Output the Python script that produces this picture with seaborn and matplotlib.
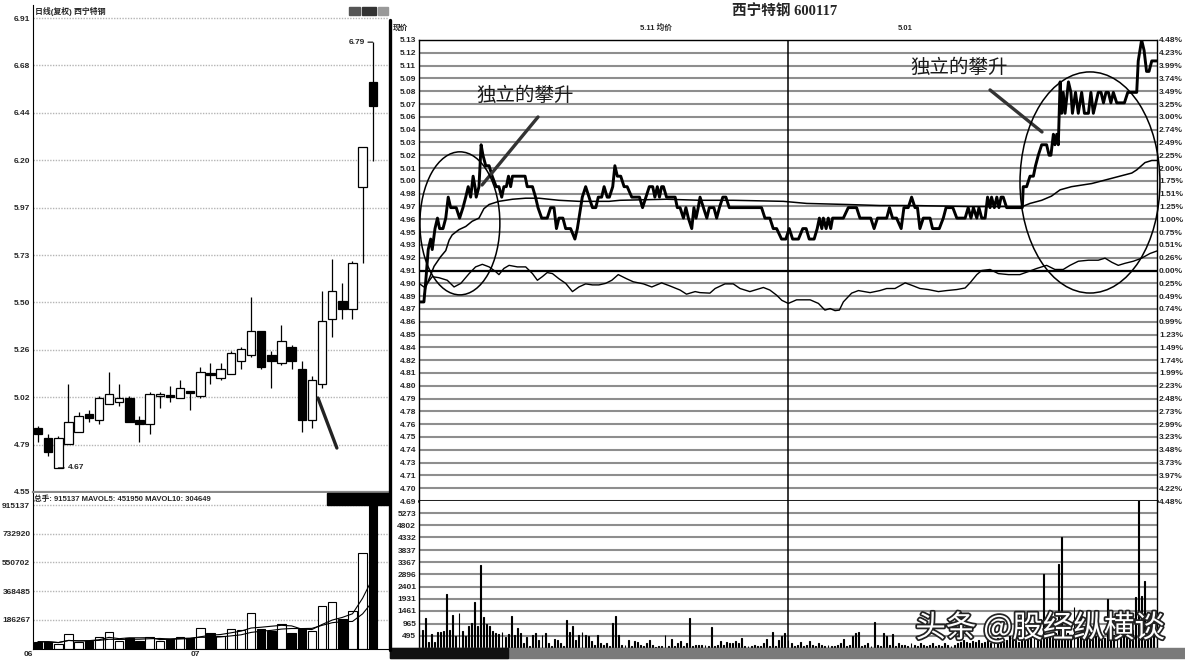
import numpy as np
import pandas as pd
import matplotlib
matplotlib.use("Agg")
import matplotlib.pyplot as plt
import matplotlib.patheffects as pe
from matplotlib.patches import Ellipse, Rectangle
from matplotlib.lines import Line2D
import seaborn as sns

# ---------------- daily K-line, 34 sessions ----------------
k_open = [4.87, 4.82, 4.67, 4.79, 4.85, 4.94, 4.91, 4.99, 5.00, 5.02,
          4.91, 4.89, 5.03, 5.03, 5.02, 5.05, 5.03, 5.14, 5.12, 5.14,
          5.20, 5.23, 5.35, 5.23, 5.19, 5.27, 5.16, 4.91, 5.09, 5.41,
          5.50, 5.46, 6.07, 6.59]
k_high = [4.88, 4.84, 4.83, 5.09, 4.95, 4.96, 5.03, 5.15, 5.09, 5.03,
          4.93, 5.05, 5.05, 5.08, 5.11, 5.05, 5.17, 5.19, 5.19, 5.25,
          5.27, 5.52, 5.35, 5.25, 5.38, 5.28, 5.20, 5.13, 5.55, 5.71,
          5.59, 5.70, 6.27, 6.79]
k_low = [4.80, 4.73, 4.67, 4.79, 4.85, 4.90, 4.89, 4.99, 4.98, 4.90,
         4.80, 4.84, 4.97, 5.00, 5.02, 4.96, 5.02, 5.09, 5.11, 5.14,
         5.16, 5.22, 5.16, 5.07, 5.18, 5.16, 4.85, 4.87, 5.07, 5.32,
         5.41, 5.41, 5.69, 6.20]
k_close = [4.84, 4.75, 4.82, 4.90, 4.93, 4.92, 5.02, 5.04, 5.02, 4.90,
           4.89, 5.04, 5.04, 5.025, 5.07, 5.045, 5.15, 5.135, 5.16, 5.24,
           5.26, 5.35, 5.17, 5.20, 5.30, 5.20, 4.91, 5.11, 5.40, 5.55,
           5.46, 5.69, 6.27, 6.47]
k_vol = [47700, 47700, 33000, 96000, 43500, 54000, 75000, 111000, 54000, 71000,
         54000, 79000, 50000, 64500, 79000, 68700, 134000, 102000, 85500, 131700,
         123000, 232500, 127500, 117000, 160000, 105000, 130000, 115000, 276740, 300000,
         190000, 244613, 610000, 915137]
k_price_labels = ["4.55", "4.79", "5.02", "5.26", "5.50", "5.73",
                  "5.97", "6.20", "6.44", "6.68", "6.91"]
k_vol_labels = ["186267", "368485", "550702", "732920", "915137"]

# ---------------- intraday (minutes 0-240) ----------------
prev_close = 4.91
limit_pct = 4.48

price_min = [0, 1.6, 2.2, 3.0, 3.8, 4.3, 5.2, 6.0, 6.7, 7.8,
             8.7, 9.5, 10.3, 11.4, 12.1, 13.2, 14.3, 15.2, 16.0, 16.8,
             17.6, 18.2, 18.6, 19.5, 20.2, 20.8, 21.7, 22.8, 23.8, 25.1,
             26.0, 26.9, 27.6, 28.4, 29.1, 29.8, 30.4, 34.5, 35.2, 36.9,
             37.9, 38.7, 39.9, 41.7, 42.8, 43.9, 44.7, 45.5, 46.8, 47.7,
             49.3, 50.7, 51.5, 53.1, 54.2, 55.3, 56.4, 57.5, 58.3, 59.4,
             60.2, 61.2,
             61.9, 63.0, 63.7, 64.5, 65.6, 66.7, 67.7, 69.2, 70.2, 71.7,
             72.7, 73.8, 74.9, 76.0, 76.7, 77.5, 78.2, 78.9, 79.5, 80.5,
             82.2, 83.3, 84.0, 84.9, 86.0, 86.8, 87.6, 88.7, 89.4, 90.1,
             90.8, 91.4, 92.5, 93.6, 94.4, 95.2, 95.9, 96.8, 97.7, 98.8,
             99.8, 100.9, 111.4, 112.5, 114.1, 115.2, 116.3, 117.9,
             119.3, 120.4, 121.5, 123.4, 124.8, 125.9, 126.9, 128.5, 129.5, 130.2,
             131.0, 131.5, 132.4, 133.1, 133.9, 134.5, 138.0, 139.6, 142.3, 143.4,
             146.9, 148.0, 149.1, 152.1, 153.0, 154.0, 155.3, 156.8, 157.7, 159.1,
             160.2, 161.3, 162.1, 162.9, 164.0, 166.2, 167.0, 169.2, 170.5, 171.4,
             173.6, 174.9,
             177.6, 178.6, 179.5, 180.3, 181.4, 182.1, 183.0, 184.1, 184.9, 185.7,
             186.2, 187.1, 187.9, 188.6, 189.3, 190.0, 191.1, 196.2, 196.5, 197.6,
             198.7, 199.8, 200.5, 201.4, 202.5, 203.4, 204.1, 204.9, 205.5, 206.3,
             206.8, 207.4, 207.9, 208.5, 209.0, 209.5, 210.1, 211.2, 212.0, 212.5,
             213.5, 214.4, 215.5, 216.4, 217.7, 218.5, 219.3, 220.1, 220.9, 221.8,
             222.6, 223.4, 224.2, 225.0, 225.8, 226.9, 229.4, 230.5, 233.4, 233.9,
             235.0, 235.8, 236.6, 237.4, 238.3, 239.1, 240.0]
price_val = [4.88, 4.88, 4.90, 4.93, 4.94, 4.93, 4.95, 4.96, 4.95, 4.95,
             4.96, 4.98, 4.97, 4.97, 4.97, 4.96, 4.97, 4.98, 4.99, 4.98,
             5.00, 4.99, 4.98, 4.99, 5.03, 5.02, 5.01, 5.01, 5.00, 4.99,
             4.99, 4.98, 4.99, 4.99, 5.00, 4.99, 5.00, 5.00, 4.99, 4.99,
             4.98, 4.97, 4.96, 4.96, 4.97, 4.97, 4.95, 4.96, 4.96, 4.95,
             4.95, 4.94, 4.95, 4.98, 4.99, 4.98, 4.97, 4.97, 4.98, 4.98,
             4.99, 4.98,
             4.98, 4.99, 5.01, 5.00, 5.00, 4.99, 4.99, 4.98, 4.98, 4.98,
             4.97, 4.98, 4.99, 4.99, 4.98, 4.99, 4.98, 4.99, 4.99, 4.98,
             4.98, 4.98, 4.97, 4.97, 4.96, 4.97, 4.96, 4.95, 4.97, 4.96,
             4.97, 4.98, 4.97, 4.96, 4.97, 4.97, 4.97, 4.96, 4.97, 4.98,
             4.98, 4.97, 4.97, 4.96, 4.96, 4.95, 4.95, 4.94,
             4.94, 4.95, 4.94, 4.94, 4.95, 4.95, 4.94, 4.94, 4.95, 4.96,
             4.95, 4.96, 4.95, 4.96, 4.95, 4.96, 4.96, 4.97, 4.97, 4.96,
             4.96, 4.95, 4.96, 4.96, 4.97, 4.96, 4.96, 4.95, 4.97, 4.97,
             4.98, 4.97, 4.97, 4.95, 4.96, 4.96, 4.95, 4.95, 4.96, 4.97,
             4.97, 4.96,
             4.96, 4.97, 4.96, 4.97, 4.96, 4.97, 4.96, 4.96, 4.98, 4.97,
             4.98, 4.97, 4.98, 4.97, 4.98, 4.98, 4.97, 4.97, 4.99, 4.99,
             5.00, 5.00, 5.01, 5.02, 5.03, 5.03, 5.03, 5.02, 5.02, 5.04,
             5.03, 5.04, 5.03, 5.09, 5.06, 5.08, 5.06, 5.09, 5.08, 5.06,
             5.08, 5.06, 5.08, 5.06, 5.06, 5.08, 5.06, 5.07, 5.08, 5.08,
             5.07, 5.08, 5.08, 5.07, 5.08, 5.07, 5.07, 5.08, 5.08, 5.11,
             5.13, 5.12, 5.10, 5.10, 5.11, 5.11, 5.11]

avg_min = [1.6, 2.2, 4.9, 7.0, 8.7, 9.8, 10.8, 13.0, 15.2, 17.3,
           19.5, 21.1, 22.8, 26.0, 30.4, 34.7, 39.0, 45.5, 52.0, 61.8,
           65.4, 80.5, 91.4, 102.2, 118.5, 126.1, 139.1, 149.9, 160.8, 179.2,
           196.2, 198.7, 202.5, 205.7, 208.5, 212.2, 218.8, 225.3, 231.8, 233.4,
           236.1, 238.3, 240.0]
avg_val = [4.885, 4.894, 4.914, 4.923, 4.929, 4.939, 4.944, 4.949, 4.952, 4.957,
           4.960, 4.969, 4.973, 4.976, 4.978, 4.979, 4.979, 4.977, 4.976, 4.976,
           4.977, 4.978, 4.977, 4.977, 4.976, 4.974, 4.973, 4.972, 4.972, 4.971,
           4.971, 4.974, 4.977, 4.981, 4.987, 4.990, 4.993, 4.998, 5.003, 5.006,
           5.013, 5.015, 5.015]

index_min = [0, 1.6, 2.7, 4.3, 6.5, 9.2, 11.4, 13.6, 16.3, 18.4,
             20.6, 22.8, 24.9, 26.0, 27.6, 29.3, 32.0, 34.7, 36.9, 38.5,
             40.1, 41.7, 43.4, 45.5, 47.7, 49.9, 52.0, 54.2, 56.4, 58.5,
             60.7, 62.7, 64.8, 67.5, 69.7, 73.0, 75.7, 78.9, 81.6, 84.9,
             87.0, 89.8, 91.4, 94.6, 96.3, 99.5, 102.2, 104.4, 107.6, 109.8,
             112.0, 114.1, 116.3, 118.0, 120.1, 122.8, 127.2, 129.9, 132.0, 133.7,
             135.3, 136.7, 138.0, 140.7, 142.9, 146.7, 149.9, 152.1, 154.8, 158.1,
             160.8, 162.9, 165.6, 168.9, 171.6, 174.9, 177.6, 179.2, 181.4, 183.0,
             185.7, 188.4, 191.7, 195.4, 198.2, 200.9, 204.1, 206.8, 209.5, 211.7,
             214.4, 217.7, 220.9, 223.1, 225.3, 227.4, 229.6, 232.3, 235.0, 237.7,
             240.0]
index_pct = [-0.25, -0.32, -0.25, -0.12, -0.14, -0.19, -0.32, -0.25, -0.06, 0.07,
             0.12, 0.07, -0.02, -0.08, 0.04, 0.10, 0.07, 0.07, -0.06, -0.19,
             -0.12, -0.04, -0.06, -0.16, -0.25, -0.41, -0.32, -0.26, -0.28, -0.28,
             -0.25, -0.19, -0.08, -0.16, -0.22, -0.26, -0.32, -0.24, -0.30, -0.38,
             -0.46, -0.41, -0.43, -0.44, -0.35, -0.26, -0.26, -0.35, -0.41, -0.37,
             -0.33, -0.38, -0.48, -0.58, -0.64, -0.57, -0.57, -0.64, -0.77, -0.74,
             -0.78, -0.77, -0.61, -0.44, -0.39, -0.43, -0.39, -0.35, -0.35, -0.24,
             -0.30, -0.35, -0.37, -0.41, -0.39, -0.37, -0.34, -0.24, -0.08, 0.00,
             0.02, -0.06, -0.08, -0.08, -0.02, 0.04, 0.10, 0.02, 0.02, 0.10,
             0.18, 0.20, 0.20, 0.24, 0.16, 0.10, 0.14, 0.18, 0.24, 0.33,
             0.38]

vol_am = [726, 700, 1188, 264, 554, 264, 647, 647, 673, 2138,
          726, 1320, 462, 1386, 686, 488, 884, 990, 1808, 858,
          3234, 1228, 964, 858, 660, 594, 554, 647, 436, 554,
          1280, 515, 792, 594, 224, 436, 92, 515, 594, 330,
          515, 594, 198, 92, 356, 330, 224, 92, 1096, 647,
          858, 330, 515, 647, 515, 488, 304, 132, 515, 224,
          132, 198, 92, 990, 1280, 515, 132, 132, 330, 92,
          304, 264, 132, 92, 198, 330, 132, 66, 92, 92,
          528, 92, 356, 92, 198, 304, 92, 198, 1188, 92,
          132, 132, 132, 132, 92, 832, 92, 132, 304, 132,
          251, 198, 198, 304, 198, 383, 92, 92, 92, 132,
          92, 92, 198, 356, 92, 647, 92, 330, 488, 594,
          330]
vol_pm = [198, 92, 132, 264, 92, 132, 304, 132, 92, 198,
          132, 92, 132, 92, 92, 132, 198, 356, 92, 132,
          488, 594, 620, 92, 132, 198, 92, 1043, 132, 92,
          594, 488, 132, 568, 92, 198, 132, 132, 92, 198,
          132, 92, 198, 132, 92, 132, 198, 92, 132, 92,
          198, 132, 92, 132, 198, 264, 330, 264, 198, 304,
          264, 330, 198, 264, 330, 198, 264, 396, 330, 264,
          330, 462, 396, 330, 264, 396, 462, 528, 396, 462,
          528, 462, 2904, 528, 462, 396, 594, 3300, 4356, 660,
          594, 528, 1596, 462, 528, 396, 462, 528, 594, 462,
          528, 462, 396, 1913, 462, 528, 594, 462, 528, 594,
          660, 726, 1990, 5806, 2043, 2637, 726, 660, 594, 528]

price_labels = ["5.13", "5.12", "5.11", "5.09", "5.08", "5.07", "5.06", "5.04", "5.03", "5.02",
                "5.01", "5.00", "4.98", "4.97", "4.96", "4.95", "4.93", "4.92", "4.91",
                "4.90", "4.89", "4.87", "4.86", "4.85", "4.84", "4.82", "4.81", "4.80", "4.79",
                "4.78", "4.76", "4.75", "4.74", "4.73", "4.71", "4.70", "4.69"]
pct_labels = ["4.48%", "4.23%", "3.99%", "3.74%", "3.49%", "3.25%", "3.00%", "2.74%", "2.49%", "2.25%",
              "2.00%", "1.75%", "1.51%", "1.25%", "1.00%", "0.75%", "0.51%", "0.26%", "0.00%",
              "0.25%", "0.49%", "0.74%", "0.99%", "1.23%", "1.49%", "1.74%", "1.99%", "2.23%", "2.48%",
              "2.73%", "2.99%", "3.23%", "3.48%", "3.73%", "3.97%", "4.22%", "4.48%"]
vol_labels = ["495", "965", "1461", "1931", "2401", "2896", "3367", "3837", "4332", "4802", "5273"]

# ---------------- style ----------------
sns.set_style("white")
plt.rcParams["font.family"] = ["Liberation Sans", "Noto Sans CJK SC", "DejaVu Sans"]
plt.rcParams["axes.unicode_minus"] = False

W, H = 1185, 662
fig = plt.figure(figsize=(W / 100, H / 100), dpi=100)


def box(x0, y0, x1, y1):
    # pixel rectangle (top-left origin) -> figure fraction
    return [x0 / W, 1 - y1 / H, (x1 - x0) / W, (y1 - y0) / H]


def ftext(x, y, s, **kw):
    fig.text(x / W, 1 - y / H, s, **kw)


TICK = dict(fontsize=6, fontweight="bold")

# ---------------- left: daily candles ----------------
ax_k = fig.add_axes(box(33, 5, 389, 492))
n = len(k_open)
xs = np.arange(n)
up = np.array(k_close) >= np.array(k_open)
ax_k.vlines(xs, k_low, k_high, color="black", lw=0.9, zorder=2)
for i in range(n):
    lo, hi = min(k_open[i], k_close[i]), max(k_open[i], k_close[i])
    ax_k.add_patch(Rectangle((i - 0.42, lo), 0.84, max(hi - lo, 0.007),
                             facecolor="white" if up[i] else "black",
                             edgecolor="black", lw=0.9, zorder=3))
ax_k.set_xlim(-0.5, 34.6)
ax_k.set_ylim(4.55, 6.975)
ax_k.set_yticks(np.linspace(4.55, 6.91, len(k_price_labels)))
ax_k.set_yticklabels(k_price_labels, **TICK)
ax_k.set_xticks([])
ax_k.tick_params(axis="y", length=0, pad=2)
ax_k.grid(axis="y", color="#b5b5b5", lw=1.0, ls=(0, (1, 1)))
for s in ["top", "right"]:
    ax_k.spines[s].set_visible(False)
ax_k.spines["left"].set_color("black")
ax_k.spines["bottom"].set_color("#8a8a8a")
ax_k.spines["bottom"].set_linewidth(1.6)

ax_k.annotate("4.67", xy=(2, 4.67), xytext=(2.9, 4.67), va="center", ha="left",
              arrowprops=dict(arrowstyle="-", lw=0.8, color="black", shrinkA=0, shrinkB=0), **TICK)
ax_k.annotate("6.79", xy=(33, 6.79), xytext=(32.2, 6.79), va="center", ha="right",
              arrowprops=dict(arrowstyle="-", lw=0.8, color="black", shrinkA=0, shrinkB=0), **TICK)
ax_k.annotate("", xy=(27.6, 5.018), xytext=(29.46, 4.769),
              arrowprops=dict(arrowstyle="-", lw=2.4, color="#222222", shrinkA=0, shrinkB=0))
ftext(35, 12, "日线(复权) 西宁特钢", fontsize=5.7, va="center", ha="left", fontweight="bold")
for x0, x1, c in [(349, 360, "#555555"), (362, 376, "#333333"), (378, 388, "#999999")]:
    fig.add_artist(Rectangle((x0 / W, 1 - 15 / H), (x1 - x0) / W, 8 / H,
                             transform=fig.transFigure, color=c))

# ---------------- left: daily volume ----------------
kv = pd.DataFrame({"i": xs, "vol": k_vol, "dir": np.where(up, "up", "down")})
kv["ma5"] = kv["vol"].rolling(5, min_periods=1).mean()
kv["ma10"] = kv["vol"].rolling(10, min_periods=1).mean()
ax_kv = fig.add_axes(box(33, 493, 389, 649.3))
sns.barplot(data=kv, x="i", y="vol", hue="dir", palette={"up": "white", "down": "black"},
            edgecolor="black", linewidth=0.8, width=0.84, native_scale=True, dodge=False,
            saturation=1, legend=False, errorbar=None, ax=ax_kv)
sns.lineplot(data=kv, x="i", y="ma5", color="black", lw=0.8, ax=ax_kv)
sns.lineplot(data=kv, x="i", y="ma10", color="black", lw=0.8, ax=ax_kv)
ax_kv.set_xlim(-0.5, 34.6)
ax_kv.set_ylim(0, 991240)
ax_kv.set_yticks([float(v) for v in k_vol_labels])
ax_kv.set_yticklabels(k_vol_labels, **TICK)
ax_kv.set_xticks([])
ax_kv.set_xlabel("")
ax_kv.set_ylabel("")
ax_kv.tick_params(axis="y", length=0, pad=2)
ax_kv.grid(axis="y", color="#b5b5b5", lw=1.0, ls=(0, (1, 1)))
ax_kv.set_axisbelow(True)
for s in ["top", "right"]:
    ax_kv.spines[s].set_visible(False)
ax_kv.spines["left"].set_color("black")
ax_kv.spines["bottom"].set_color("black")
fig.add_artist(Rectangle((327 / W, 1 - 505 / H), 62 / W, 12 / H,
                         transform=fig.transFigure, color="black", zorder=10))
ftext(34, 499, "总手: 915137 MAVOL5: 451950 MAVOL10: 304649", fontsize=5.5,
      va="center", ha="left", fontweight="bold")
ftext(28, 655, "06", fontsize=6, fontweight="bold", ha="center", va="center")
ftext(195, 655, "07", fontsize=6, fontweight="bold", ha="center", va="center")

# ---------------- right: intraday price ----------------
lo_p = prev_close * (1 - limit_pct / 100)
hi_p = prev_close * (1 + limit_pct / 100)
grid_p = np.linspace(lo_p, hi_p, len(price_labels))

ax_p = fig.add_axes(box(419, 40, 1157, 501))
ax_p.set_xlim(0, 240)
ax_p.set_ylim(lo_p, hi_p)
ax_p.set_yticks(grid_p)
ax_p.set_yticklabels(price_labels[::-1], **TICK)
ax_p.tick_params(axis="y", length=0, pad=2)
ax_p.set_xticks([])
ax_p.grid(axis="y", color="#8e8e8e", lw=1.5)
ax_p.axhline(prev_close, color="black", lw=1.6, zorder=2)
ax_p.axvline(120, color="black", lw=1.1, zorder=2)

index_price = [prev_close * (1 + v / 100) for v in index_pct]
sns.lineplot(x=index_min, y=index_price, estimator=None, sort=False, color="black", lw=1.0, ax=ax_p)
sns.lineplot(x=avg_min, y=avg_val, estimator=None, sort=False, color="black", lw=1.1, ax=ax_p)
sns.lineplot(x=price_min, y=price_val, estimator=None, sort=False, color="black", lw=2.1, ax=ax_p)

for s in ax_p.spines.values():
    s.set_color("black")
    s.set_linewidth(1.0)
ax_p.spines["bottom"].set_linewidth(1.8)

ax_pr = ax_p.twinx()
ax_pr.set_ylim(lo_p, hi_p)
ax_pr.set_yticks(grid_p)
ax_pr.set_yticklabels(pct_labels[::-1], **TICK)
ax_pr.tick_params(axis="y", length=0, pad=1.5)
for s in ax_pr.spines.values():
    s.set_visible(False)

# annotations
ax_p.add_patch(Ellipse((13.3, 4.955), 26.0, 0.1365, fill=False, ec="black", lw=1.1, clip_on=False, zorder=5))
ax_p.add_patch(Ellipse((218.2, 4.994), 45.5, 0.211, fill=False, ec="black", lw=1.1, clip_on=False, zorder=5))
cjk = ["Noto Sans CJK SC", "DejaVu Sans"]
ax_p.text(34.5, 5.0775, "独立的攀升", fontsize=14, ha="center", va="center", family=cjk, color="#1a1a1a")
ax_p.text(175.6, 5.104, "独立的攀升", fontsize=14, ha="center", va="center", family=cjk, color="#1a1a1a")
ax_p.annotate("", xy=(20.5, 4.9916), xytext=(38.7, 5.0565),
              arrowprops=dict(arrowstyle="-", lw=2.4, color="#333333", shrinkA=0, shrinkB=0))
ax_p.annotate("", xy=(202.6, 5.0422), xytext=(185.7, 5.0823),
              arrowprops=dict(arrowstyle="-", lw=2.4, color="#333333", shrinkA=0, shrinkB=0))

# ---------------- right: intraday volume ----------------
vol_all = vol_am + vol_pm
minutes = np.arange(len(vol_all))
ax_v = fig.add_axes(box(419, 501, 1157, 648.3))
ax_v.set_axisbelow(True)
ax_v.grid(axis="y", color="#8e8e8e", lw=1.5, zorder=0)
sns.barplot(x=minutes, y=vol_all, native_scale=True, width=0.3, color="black",
            edgecolor="black", linewidth=0.8, saturation=1, errorbar=None, ax=ax_v, zorder=3)
ax_v.set_xlim(0, 240)
ax_v.set_ylim(0, 5753)
ax_v.set_yticks([float(v) for v in vol_labels])
ax_v.set_yticklabels(vol_labels, **TICK)
ax_v.tick_params(axis="y", length=0, pad=2)
ax_v.set_xticks([])
ax_v.axvline(120, color="black", lw=1.1)
for s in ax_v.spines.values():
    s.set_color("black")
    s.set_linewidth(1.0)
ax_v.spines["top"].set_visible(False)

# ---------------- frame pieces and header texts ----------------
fig.add_artist(Line2D([390 / W, 390 / W], [1 - 20 / H, 1 - 650 / H], color="black", lw=2.4))
fig.add_artist(Rectangle((390 / W, 1 - 658 / H), (W - 390) / W, 10 / H,
                         transform=fig.transFigure, color="#7a7a7a"))
fig.add_artist(Rectangle((390 / W, 1 - 658 / H), 118 / W, 10 / H,
                         transform=fig.transFigure, color="#111111"))

ftext(785, 12, "西宁特钢 600117", fontsize=10.5, fontweight="bold", ha="center", va="center",
      family=["Liberation Serif", "Noto Sans CJK SC"])
ftext(393, 28, "现价", fontsize=5.5, fontweight="bold", ha="left", va="center")
ftext(656, 28, "5.11 均价", fontsize=5.5, fontweight="bold", ha="center", va="center")
ftext(905, 28, "5.01", fontsize=5.5, fontweight="bold", ha="center", va="center")

ftext(1040, 628, "头条 @股经纵横谈", fontsize=22, color="white", ha="center", va="center",
      family=cjk, path_effects=[pe.withStroke(linewidth=2.5, foreground="#222222")])

fig.savefig("out.png", dpi=100)
